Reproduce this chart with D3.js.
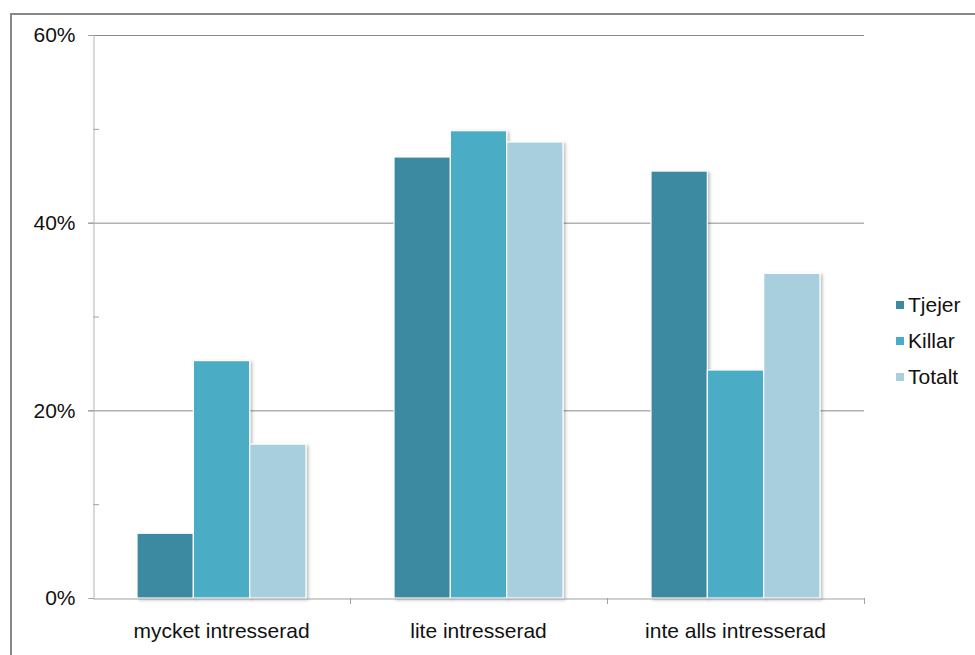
<!DOCTYPE html>
<html><head><meta charset="utf-8">
<script src="https://cdn.jsdelivr.net/npm/d3@7"></script>
<style>html,body{margin:0;padding:0;background:#fff;} svg{display:block;font-family:"Liberation Sans",Arial,sans-serif;}</style>
</head><body>
<script>
const categories = ["mycket intresserad", "lite intresserad", "inte alls intresserad"];
const seriesNames = ["Tjejer", "Killar", "Totalt"];
const tjejer = [6.9, 47.0, 45.5];
const killar = [25.3, 49.8, 24.3];
const totalt = [16.4, 48.6, 34.6];
const yTicks = [0, 20, 40, 60];
const colors = ["#3B8AA1", "#4BACC6", "#A8CFDE"];

const seriesValues = [tjejer, killar, totalt];
const W = 975, H = 655;
const m = {left: 93, right: 864, top: 35, bottom: 598};
const FS = 21;

const svg = d3.select("body").append("svg").attr("width", W).attr("height", H);
const defs = svg.append("defs");
const f = defs.append("filter").attr("id","sh").attr("x","-20%").attr("y","-20%").attr("width","150%").attr("height","150%");
f.append("feDropShadow").attr("dx",2).attr("dy",1.5).attr("stdDeviation",1.5).attr("flood-color","#000").attr("flood-opacity",0.25);

// outer border
svg.append("rect").attr("x",11).attr("y",14).attr("width",W).attr("height",H)
  .attr("fill","none").attr("stroke","#888").attr("stroke-width",2);

const y = d3.scaleLinear().domain([0,60]).range([m.bottom, m.top]);
const x0 = d3.scaleBand().domain(categories).range([m.left, m.right]).padding(0);
const bw = x0.bandwidth();
const gap = 44/257;
const x1 = d3.scaleBand().domain(seriesNames).range([bw*gap, bw*(1-gap)]).padding(0);

// gridlines
svg.append("g").selectAll("line").data(yTicks.filter(d=>d>0)).join("line")
  .attr("x1", m.left-5).attr("x2", m.right).attr("y1", d=>y(d)+0.5).attr("y2", d=>y(d)+0.5)
  .attr("stroke","#8a8a8a").attr("stroke-width",1);

// minor ticks
svg.append("g").selectAll("line").data([10,30,50]).join("line")
  .attr("x1", m.left).attr("x2", m.left+6).attr("y1", d=>y(d)+0.5).attr("y2", d=>y(d)+0.5)
  .attr("stroke","#a0a0a0");

// y axis
const yAxis = d3.axisLeft(y).tickValues(yTicks).tickFormat(d=>d+"%").tickSize(5).tickPadding(13);
const gy = svg.append("g").attr("transform",`translate(${m.left+0.5},0)`).call(yAxis);
gy.select(".domain").attr("stroke","#b4b4b4");
gy.selectAll(".tick line").attr("stroke","#a0a0a0");
gy.selectAll(".tick text").attr("font-size",FS).attr("fill","#111").attr("font-family","Liberation Sans, Arial, sans-serif");

// bars
const groups = svg.append("g").selectAll("g").data(categories).join("g")
  .attr("transform", c=>`translate(${x0(c)},0)`);
groups.selectAll("rect").data((c,i)=>seriesNames.map((s,j)=>({s, v: seriesValues[j][i], j}))).join("rect")
  .attr("x", d=>x1(d.s)).attr("width", x1.bandwidth())
  .attr("y", d=>y(d.v)).attr("height", d=>y(0)-y(d.v))
  .attr("fill", d=>colors[d.j]).attr("stroke","#fff").attr("stroke-width",1.2)
  .attr("filter","url(#sh)");

// x axis
const xAxis = d3.axisBottom(x0).tickSize(0).tickPadding(25);
const gx = svg.append("g").attr("transform",`translate(0,${m.bottom+0.5})`).call(xAxis);
gx.select(".domain").attr("stroke","#a0a0a0");
gx.selectAll(".tick text").attr("font-size",FS).attr("fill","#111").attr("font-family","Liberation Sans, Arial, sans-serif");
// x tick marks at category boundaries
svg.append("g").selectAll("line").data(categories.map(c=>x0(c)+bw)).join("line")
  .attr("x1", d=>d+0.5).attr("x2", d=>d+0.5).attr("y1", m.bottom).attr("y2", m.bottom+6)
  .attr("stroke","#a0a0a0");

// legend
const lg = svg.append("g").selectAll("g").data(seriesNames).join("g")
  .attr("transform",(d,i)=>`translate(896,${305+i*36})`);
lg.append("rect").attr("x",0).attr("y",-4).attr("width",8).attr("height",8).attr("fill",(d,i)=>colors[i]);
lg.append("text").attr("x",12).attr("y",0).attr("dy","0.35em").attr("font-size",FS).attr("fill","#111").text(d=>d);
</script>
</body></html>
